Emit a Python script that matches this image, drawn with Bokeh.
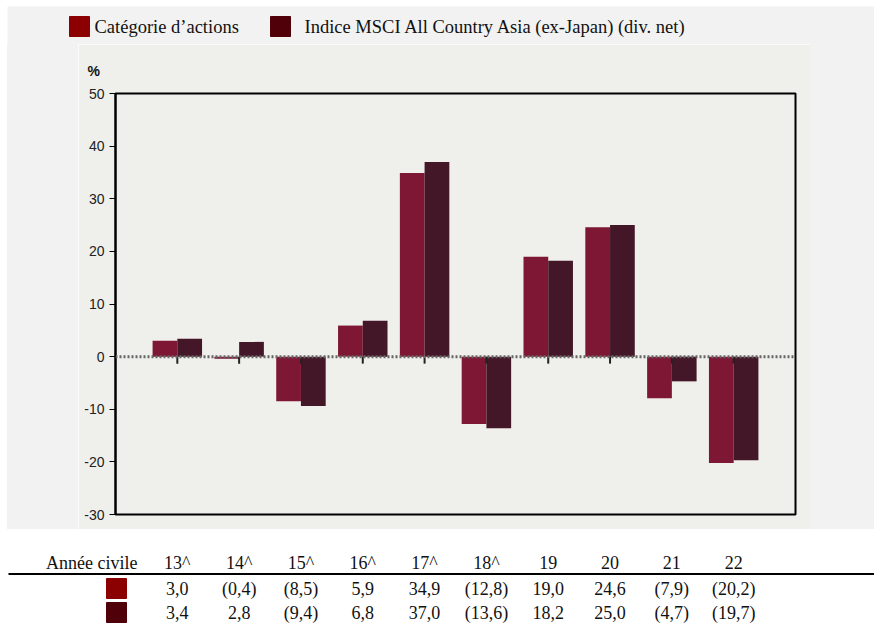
from bokeh.plotting import figure
from bokeh.layouts import column, row
from bokeh.models import Range1d, FixedTicker, Span, ColumnDataSource, Spacer
from bokeh.core.properties import value
from bokeh.transform import dodge
from bokeh.embed import file_html
from bokeh.resources import INLINE

# ---- data ----
years = ["13^", "14^", "15^", "16^", "17^", "18^", "19", "20", "21", "22"]
category = [3.0, -0.4, -8.5, 5.9, 34.9, -12.8, 19.0, 24.6, -7.9, -20.2]
index_msci = [3.4, 2.8, -9.4, 6.8, 37.0, -13.6, 18.2, 25.0, -4.7, -19.7]
series_names = ["Catégorie d\u2019actions", "Indice MSCI All Country Asia (ex-Japan) (div. net)"]
y_ticks = [-30, -20, -10, 0, 10, 20, 30, 40, 50]
row_label = "Année civile"
y_unit = "%"

# ---- style ----
BAR_COLORS = ["#7e1733", "#431628"]
KEY_COLORS = ["#8b0000", "#4f0008"]
OUTER = "#f2f2f2"
PANEL = "#efefeb"
SERIF = value("Liberation Serif")
TXT = "#111111"
W = 874


def fmt(v):
    s = f"{abs(v):.1f}".replace(".", ",")
    return f"({s})" if v < 0 else s


def blank(fig):
    fig.grid.visible = False
    return fig


# ---- legend strip (page pixels 0..874 x 0..44) ----
leg = blank(figure(width=W, height=44, x_range=Range1d(7, W), y_range=Range1d(44, 6),
                   x_axis_type=None, y_axis_type=None, output_backend="svg",
                   toolbar_location=None, min_border=0, min_border_left=7, min_border_top=6,
                   background_fill_color=OUTER, border_fill_color="white",
                   outline_line_color=None))
leg.rect(x=[79, 280], y=[26, 26], width=20, height=20, color=KEY_COLORS)
leg.text(x=[94, 304], y=[26, 26], text=series_names, text_font=SERIF,
         text_font_size=value("18.5px"), text_baseline="middle", text_color=TXT)

# ---- side strips ----
left_strip = Spacer(width=78, height=485,
                    styles={"background": f"linear-gradient(to right, white 7px, {OUTER} 7px)"})
right_strip = Spacer(width=64, height=485, styles={"background": OUTER})

# ---- main chart ----
n = len(years)
xpos = list(range(1, n + 1))
p = blank(figure(width=732, height=485, x_range=Range1d(0, n + 1), y_range=Range1d(-30, 50),
                 x_axis_type=None, output_backend="svg", toolbar_location=None, title=y_unit,
                 min_border_left=37, min_border_right=15, min_border_top=49,
                 min_border_bottom=15, background_fill_color=PANEL, border_fill_color=PANEL,
                 outline_line_color="black", outline_line_width=2))
p.title.text_font = "Liberation Sans"
p.title.text_font_style = "bold"
p.title.text_font_size = "14px"
p.title.text_color = TXT
p.title.align = "left"
p.title.offset = -28
p.title.standoff = 30

src = ColumnDataSource(dict(x=xpos, cat=category, idx=index_msci))
p.vbar(x=dodge("x", -0.2, range=p.x_range), top="cat", bottom=0, width=0.4,
       source=src, fill_color=BAR_COLORS[0], line_color=None)
p.vbar(x=dodge("x", 0.2, range=p.x_range), top="idx", bottom=0, width=0.4,
       source=src, fill_color=BAR_COLORS[1], line_color=None)

p.add_layout(Span(location=0, dimension="width", line_color="#666666",
                  line_width=3, line_dash="2 2"))

# category ticks hanging 7px below the zero line
frame_h = 421
tick_len = 7 * (50 - (-30)) / frame_h
p.segment(x0=xpos, x1=xpos, y0=[0] * n, y1=[-tick_len] * n,
          line_color="#222222", line_width=2)

ya = p.yaxis[0]
ya.ticker = FixedTicker(ticks=y_ticks)
ya.major_label_overrides = {t: str(t) for t in y_ticks}
ya.major_label_text_font = "Liberation Sans"
ya.major_label_text_font_size = "14px"
ya.major_label_text_color = "#222222"
ya.major_tick_out = 6
ya.major_tick_in = 0
ya.major_tick_line_color = "black"
ya.minor_tick_line_color = None
ya.axis_line_color = "black"
ya.axis_line_width = 2
ya.major_label_standoff = 5

# ---- table (page pixels x 7..874, y 529..626) ----
ppu = 680 / (n + 1)
tab = blank(figure(width=W, height=97, x_range=Range1d((7 - 115) / ppu, (W - 115) / ppu),
                   y_range=Range1d(626, 529), x_axis_type=None, y_axis_type=None,
                   output_backend="svg", toolbar_location=None, min_border=0,
                   min_border_left=7,
                   background_fill_color="white", border_fill_color="white",
                   outline_line_color=None))
tab.text(x=[(137 - 115) / ppu], y=[562], text=[row_label], text_font=SERIF,
         text_font_size=value("18px"), text_align="right", text_baseline="middle",
         text_color=TXT)
tab.text(x=xpos, y=[562] * n, text=years, text_font=SERIF, text_font_size=value("18px"),
         text_align="center", text_baseline="middle", text_color=TXT)
tab.segment(x0=[(8 - 115) / ppu], x1=[(W - 115) / ppu], y0=[573.5], y1=[573.5],
            line_color="black", line_width=2)
rows_y = [588, 612]
for vals, yy, kc in zip([category, index_msci], rows_y, KEY_COLORS):
    tab.rect(x=[1 / ppu], y=[yy], width=20, height=20, width_units="screen",
             height_units="screen", color=kc)
    tab.text(x=xpos, y=[yy] * n, text=[fmt(v) for v in vals], text_font=SERIF,
             text_font_size=value("18px"), text_align="center", text_baseline="middle",
             text_color=TXT)

layout = column(leg, row(left_strip, p, right_strip), tab)
open("out.html", "w").write(file_html(layout, INLINE))
